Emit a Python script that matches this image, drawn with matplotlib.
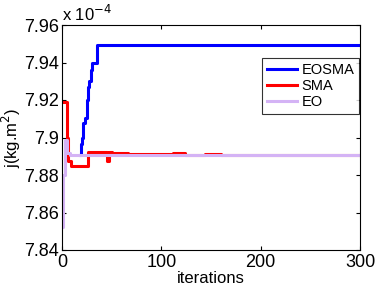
import matplotlib
matplotlib.use("Agg")
import matplotlib.pyplot as plt

plt.rcParams['font.family'] = ['Liberation Sans', 'DejaVu Sans']

# Convergence curves (values in units of 1e-4 kg.m^2), step breakpoints
eosma_iter = [18, 19, 20, 21, 23, 24, 25, 26, 27, 28, 29, 30, 33, 35, 300]
eosma_val = [7.8905, 7.8965, 7.9000, 7.9080, 7.9105, 7.9105, 7.9200, 7.9270, 7.9300, 7.9300, 7.9360, 7.9400, 7.9400, 7.9495, 7.9495]

sma_iter = [0, 5, 6, 9, 26, 45, 47, 50, 60, 66, 112, 124, 144, 160, 300]
sma_val = [7.9190, 7.8995, 7.8875, 7.8850, 7.8925, 7.8875, 7.8925, 7.8920, 7.8920, 7.8910, 7.8915, 7.8908, 7.8913, 7.8908, 7.8908]

eo_iter = [0, 1, 3, 5, 8, 300]
eo_val = [7.8525, 7.8800, 7.8985, 7.8918, 7.8908, 7.8908]

fig = plt.figure(figsize=(3.77, 2.90), dpi=100)
ax = fig.add_axes([62/377, 40/290, 298/377, 225/290])

ax.plot(eosma_iter, eosma_val, drawstyle='steps-post', color='#0000ff', lw=2.2, label='EOSMA')
ax.plot(sma_iter, sma_val, drawstyle='steps-post', color='#ff0000', lw=2.2, label='SMA')
ax.plot(eo_iter, eo_val, drawstyle='steps-post', color='#d4b3f5', lw=2.2, label='EO')

ax.set_xlim(0, 300)
ax.set_ylim(7.84, 7.96)
ax.set_xticks([0, 100, 200, 300])
ax.set_yticks([7.84, 7.86, 7.88, 7.90, 7.92, 7.94, 7.96])
ax.set_yticklabels(['7.84', '7.86', '7.88', '7.9', '7.92', '7.94', '7.96'])
ax.tick_params(direction='in', top=True, right=True, labelsize=13, length=3, pad=2)
ax.tick_params(axis='x', pad=3)
for s in ax.spines.values():
    s.set_linewidth(0.8)

ax.set_xlabel('iterations', fontsize=12, labelpad=0)
ax.set_ylabel('j(kg.m$^2$)', fontsize=12)
ax.yaxis.set_label_coords(-0.131, 0.5)
ax.text(0.0, 1.005, 'x 10$^{-4}$', transform=ax.transAxes, fontsize=12, ha='left', va='bottom')

leg = ax.legend(loc='upper right', bbox_to_anchor=(1.0, 0.858), fontsize=10.5, frameon=True,
                fancybox=False, edgecolor='black', borderpad=0.35, handlelength=2.05,
                handletextpad=0.3, labelspacing=0.15, borderaxespad=0.05)
leg.get_frame().set_linewidth(0.8)

fig.savefig('out.png', dpi=100)
